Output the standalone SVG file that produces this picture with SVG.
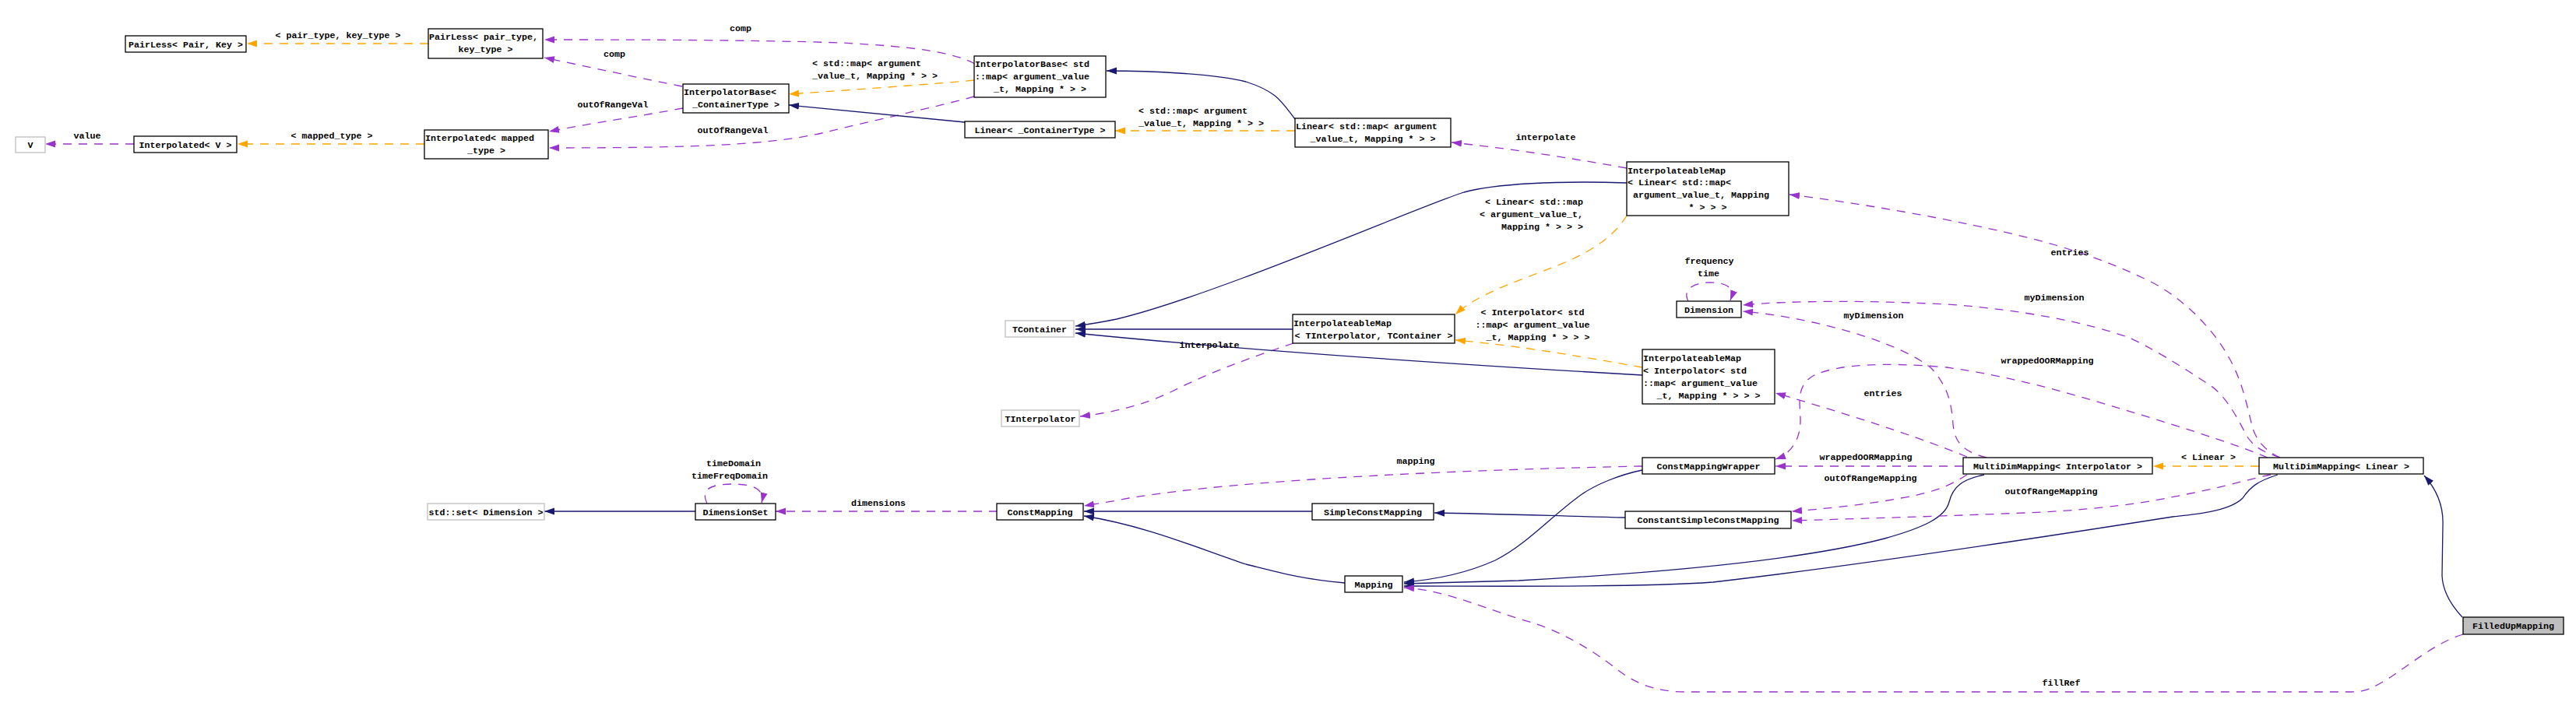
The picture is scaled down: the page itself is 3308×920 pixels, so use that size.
<svg xmlns="http://www.w3.org/2000/svg" width="3308" height="920" viewBox="0 0 3308 920">
<style>
text{font-family:"Liberation Mono","DejaVu Sans Mono",monospace;font-size:11.67px;font-weight:bold;fill:#000}
.c{text-anchor:middle}
.r{text-anchor:end}
.node rect{fill:#fff;stroke:#000;stroke-width:1.3}
.node.g rect{stroke:#bfbfbf}
.node.f rect{fill:#bfbfbf}
#edges path{fill:none;stroke-width:1.3}
#edges .inh{stroke:#191970;marker-end:url(#aN)}
#edges .use{stroke:#9a32cd;stroke-dasharray:11,9;marker-end:url(#aP)}
#edges .tpl{stroke:#ffa500;stroke-dasharray:11,9;marker-end:url(#aO)}
</style>
<defs>
<marker id="aN" markerWidth="14" markerHeight="10" refX="13" refY="5" orient="auto" markerUnits="userSpaceOnUse"><path d="M0,0.5 L13,5 L0,9.5 z" fill="#191970"/></marker>
<marker id="aP" markerWidth="14" markerHeight="10" refX="13" refY="5" orient="auto" markerUnits="userSpaceOnUse"><path d="M0,0.5 L13,5 L0,9.5 z" fill="#9a32cd"/></marker>
<marker id="aO" markerWidth="14" markerHeight="10" refX="13" refY="5" orient="auto" markerUnits="userSpaceOnUse"><path d="M0,0.5 L13,5 L0,9.5 z" fill="#ffa500"/></marker>
</defs>
<rect width="3308" height="920" fill="#fff"/>
<g id="edges">
<path class="tpl" d="M550,56 L317,56"/>
<path class="tpl" d="M545,185 L305,185"/>
<path class="use" d="M172,185 L58,185"/>
<path class="use" d="M876,111 C830,102 760,87 699,74"/>
<path class="use" d="M877,139 C830,148 760,158 705,169"/>
<path class="use" d="M1252,82 C1225,68 1180,60 1080,55 C960,51 800,51 699,51"/>
<path class="use" d="M1251,124 C1200,138 1120,155 1060,170 C990,186 900,190 705,190"/>
<path class="tpl" d="M1251,103 C1200,108 1100,115 1013,121"/>
<path class="inh" d="M1239,157 C1150,149 1080,142 1013,135"/>
<path class="tpl" d="M1663,168 L1432,168"/>
<path class="inh" d="M1663,153 C1645,130 1640,118 1600,105 C1560,95 1480,91 1421,91"/>
<path class="use" d="M2089,216 C2000,200 1930,190 1864,183"/>
<path class="inh" d="M2089,235 C2000,232 1920,236 1880,247 C1830,262 1560,380 1434,410 C1410,415 1395,417 1381,419"/>
<path class="tpl" d="M2089,277 C2075,300 2050,320 2010,337 C1960,358 1900,375 1869,404"/>
<path class="inh" d="M1660,423 L1381,423"/>
<path class="use" d="M1661,441 C1620,455 1560,475 1505,503 C1470,520 1430,530 1387,535"/>
<path class="tpl" d="M2109,472 C2040,460 1960,445 1869,437"/>
<path class="inh" d="M2109,482 C1900,470 1600,450 1381,428"/>
<path class="use" d="M2526,587 C2480,568 2400,540 2280,505"/>
<path class="use" d="M2551,588 C2520,580 2510,568 2508,545 C2506,515 2500,495 2480,473 C2440,440 2330,408 2238,400"/>
<path class="use" d="M2521,599 L2280,599"/>
<path class="use" d="M2526,610 C2510,620 2490,632 2441,640 C2400,648 2340,654 2301,657"/>
<path class="inh" d="M2548,610 C2520,616 2508,625 2503,645 C2498,665 2470,678 2420,692 C2320,718 2150,735 1950,746 L1803,750"/>
<path class="inh" d="M2925,610 C2900,618 2890,625 2880,640 C2865,655 2830,660 2790,664 C2650,686 2400,725 2200,748 C2100,755 1900,753 1803,753"/>
<path class="inh" d="M2109,604 C2080,610 2050,622 2030,636 C1990,665 1960,700 1920,720 C1880,738 1840,745 1803,748"/>
<path class="inh" d="M2087,665 C2000,663 1920,660 1842,659"/>
<path class="inh" d="M1685,657 L1392,657"/>
<path class="inh" d="M1727,749 C1670,744 1640,735 1600,725 C1540,705 1470,675 1392,663"/>
<path class="use" d="M2109,599 C1900,603 1600,615 1450,640 C1430,644 1410,647 1392,650"/>
<path class="use" d="M1281,657 L996,657"/>
<path class="inh" d="M893,657 L699,657"/>
<path class="use" d="M908,647 C900,630 910,622 940,622 C970,622 982,630 978,646"/>
<path class="use" d="M2168,387 C2160,372 2175,363 2195,363 C2218,363 2228,370 2222,386"/>
<path class="use" d="M2928,588 C2905,578 2895,560 2892,547 C2885,520 2880,490 2861,457 C2840,420 2800,380 2758,360 C2720,342 2690,330 2640,315 C2560,292 2420,265 2298,250"/>
<path class="use" d="M2928,588 C2905,580 2895,575 2885,560 C2870,530 2855,505 2835,493 C2800,470 2760,445 2732,433 C2680,415 2600,398 2500,391 C2400,386 2300,386 2238,392"/>
<path class="use" d="M2912,588 C2870,570 2780,542 2706,520 C2640,500 2577,483 2500,472 C2420,465 2360,468 2330,482 C2305,495 2312,520 2312,540 C2312,565 2300,583 2280,590"/>
<path class="use" d="M2916,610 C2890,615 2860,625 2803,636 C2760,645 2700,655 2600,659 C2500,663 2400,666 2301,669"/>
<path class="tpl" d="M2901,599 L2765,599"/>
<path class="inh" d="M3162,793 C3148,778 3137,760 3136,740 L3137,675 C3138,650 3130,630 3113,611"/>
<path class="use" d="M3163,815 C3130,825 3100,850 3070,870 C3050,882 3040,889 3020,889 L2165,889 C2120,889 2095,875 2070,855 C2030,825 1990,805 1950,795 C1890,775 1850,758 1803,755"/>
<g id="edge-labels">
<text class="c" x="434" y="49">&lt; pair_type, key_type &gt;</text>
<text class="c" x="426" y="178">&lt; mapped_type &gt;</text>
<text class="c" x="112" y="178">value</text>
<text class="c" x="789" y="73">comp</text>
<text class="c" x="787" y="138">outOfRangeVal</text>
<text class="c" x="951" y="40">comp</text>
<text class="c" x="941" y="171">outOfRangeVal</text>
<text x="1043" y="85">&lt; std::map&lt; argument</text>
<text x="1043" y="101">_value_t, Mapping * &gt; &gt;</text>
<text x="1462" y="146">&lt; std::map&lt; argument</text>
<text x="1462" y="162">_value_t, Mapping * &gt; &gt;</text>
<text class="c" x="1985" y="180">interpolate</text>
<text class="r" x="2033" y="263">&lt; Linear&lt; std::map</text>
<text class="r" x="2033" y="279">&lt; argument_value_t,</text>
<text class="r" x="2033" y="295">Mapping * &gt; &gt; &gt;</text>
<text class="c" x="2195" y="339">frequency</text>
<text class="c" x="2194" y="355">time</text>
<text class="c" x="1968" y="405">&lt; Interpolator&lt; std</text>
<text class="c" x="1968" y="421">::map&lt; argument_value</text>
<text class="c" x="1975" y="437">_t, Mapping * &gt; &gt; &gt;</text>
<text class="c" x="1553" y="447">interpolate</text>
<text class="c" x="2406" y="409">myDimension</text>
<text class="c" x="2638" y="386">myDimension</text>
<text class="c" x="2418" y="509">entries</text>
<text class="c" x="2658" y="328">entries</text>
<text class="c" x="2629" y="467">wrappedOORMapping</text>
<text class="c" x="2396" y="591">wrappedOORMapping</text>
<text class="c" x="2402" y="618">outOfRangeMapping</text>
<text class="c" x="2634" y="635">outOfRangeMapping</text>
<text class="c" x="2836" y="591">&lt; Linear &gt;</text>
<text class="c" x="1818" y="596">mapping</text>
<text class="c" x="1128" y="650">dimensions</text>
<text class="c" x="942" y="599">timeDomain</text>
<text class="c" x="937" y="615">timeFreqDomain</text>
<text class="c" x="2647" y="881">fillRef</text>
</g>
</g>
<g id="n1" class="node"><rect x="161" y="46" width="155" height="21"/><text class="c" x="238.5" y="60.5">PairLess&lt; Pair, Key &gt;</text></g>
<g id="n2" class="node"><rect x="550" y="37" width="147" height="38"/><text x="551" y="51">PairLess&lt; pair_type,</text><text class="c" x="623.5" y="67">key_type &gt;</text></g>
<g id="n3" class="node g"><rect x="20" y="176" width="38" height="20"/><text class="c" x="39" y="190">V</text></g>
<g id="n4" class="node"><rect x="172" y="175" width="132" height="21"/><text class="c" x="238" y="189.5">Interpolated&lt; V &gt;</text></g>
<g id="n5" class="node"><rect x="545" y="167" width="159" height="37"/><text x="546" y="181">Interpolated&lt; mapped</text><text class="c" x="624.5" y="197">_type &gt;</text></g>
<g id="n6" class="node"><rect x="877" y="108" width="136" height="37"/><text x="878" y="122">InterpolatorBase&lt;</text><text class="c" x="945" y="138">_ContainerType &gt;</text></g>
<g id="n7" class="node"><rect x="1251" y="72" width="169" height="53"/><text x="1252" y="86">InterpolatorBase&lt; std</text><text x="1252" y="102">::map&lt; argument_value</text><text class="c" x="1335.5" y="118">_t, Mapping * &gt; &gt;</text></g>
<g id="n8" class="node"><rect x="1239" y="156" width="193" height="21"/><text class="c" x="1335.5" y="170.5">Linear&lt; _ContainerType &gt;</text></g>
<g id="n9" class="node"><rect x="1663" y="152" width="200" height="37"/><text x="1664" y="165.5">Linear&lt; std::map&lt; argument</text><text class="c" x="1763" y="181.5">_value_t, Mapping * &gt; &gt;</text></g>
<g id="n10" class="node"><rect x="2089" y="208" width="208" height="69"/><text x="2090" y="222.5">InterpolateableMap</text><text x="2090" y="238">&lt; Linear&lt; std::map&lt;</text><text x="2097" y="254">argument_value_t, Mapping</text><text class="c" x="2193" y="270">* &gt; &gt; &gt;</text></g>
<g id="n11" class="node g"><rect x="1291" y="412" width="88" height="21"/><text class="c" x="1335" y="426.5">TContainer</text></g>
<g id="n12" class="node"><rect x="1660" y="404" width="208" height="37"/><text x="1661" y="418.5">InterpolateableMap</text><text class="c" x="1764" y="434.5">&lt; TInterpolator, TContainer &gt;</text></g>
<g id="n13" class="node g"><rect x="1286" y="527" width="100" height="21"/><text class="c" x="1336" y="541.5">TInterpolator</text></g>
<g id="n14" class="node"><rect x="2153" y="387" width="83" height="21"/><text class="c" x="2194.5" y="401.5">Dimension</text></g>
<g id="n15" class="node"><rect x="2109" y="449" width="170" height="70"/><text x="2110" y="463.5">InterpolateableMap</text><text x="2110" y="479.5">&lt; Interpolator&lt; std</text><text x="2110" y="495.5">::map&lt; argument_value</text><text class="c" x="2194" y="511.5">_t, Mapping * &gt; &gt; &gt;</text></g>
<g id="n16" class="node g"><rect x="549" y="647" width="150" height="21"/><text class="c" x="624" y="661.5">std::set&lt; Dimension &gt;</text></g>
<g id="n17" class="node"><rect x="893" y="647" width="103" height="21"/><text class="c" x="944.5" y="661.5">DimensionSet</text></g>
<g id="n18" class="node"><rect x="1280" y="647" width="111" height="21"/><text class="c" x="1335.5" y="661.5">ConstMapping</text></g>
<g id="n19" class="node"><rect x="1685" y="647" width="156" height="21"/><text class="c" x="1763" y="661.5">SimpleConstMapping</text></g>
<g id="n20" class="node"><rect x="2109" y="588" width="170" height="21"/><text class="c" x="2194" y="602.5">ConstMappingWrapper</text></g>
<g id="n21" class="node"><rect x="2087" y="657" width="213" height="22"/><text class="c" x="2193.5" y="672">ConstantSimpleConstMapping</text></g>
<g id="n22" class="node"><rect x="1727" y="740" width="74" height="21"/><text class="c" x="1764" y="754.5">Mapping</text></g>
<g id="n23" class="node"><rect x="2521" y="588" width="243" height="21"/><text class="c" x="2642.5" y="602.5">MultiDimMapping&lt; Interpolator &gt;</text></g>
<g id="n24" class="node"><rect x="2901" y="588" width="211" height="21"/><text class="c" x="3006.5" y="602.5">MultiDimMapping&lt; Linear &gt;</text></g>
<g id="n25" class="node f"><rect x="3163" y="793" width="129" height="22"/><text class="c" x="3227.5" y="808">FilledUpMapping</text></g>
</svg>
